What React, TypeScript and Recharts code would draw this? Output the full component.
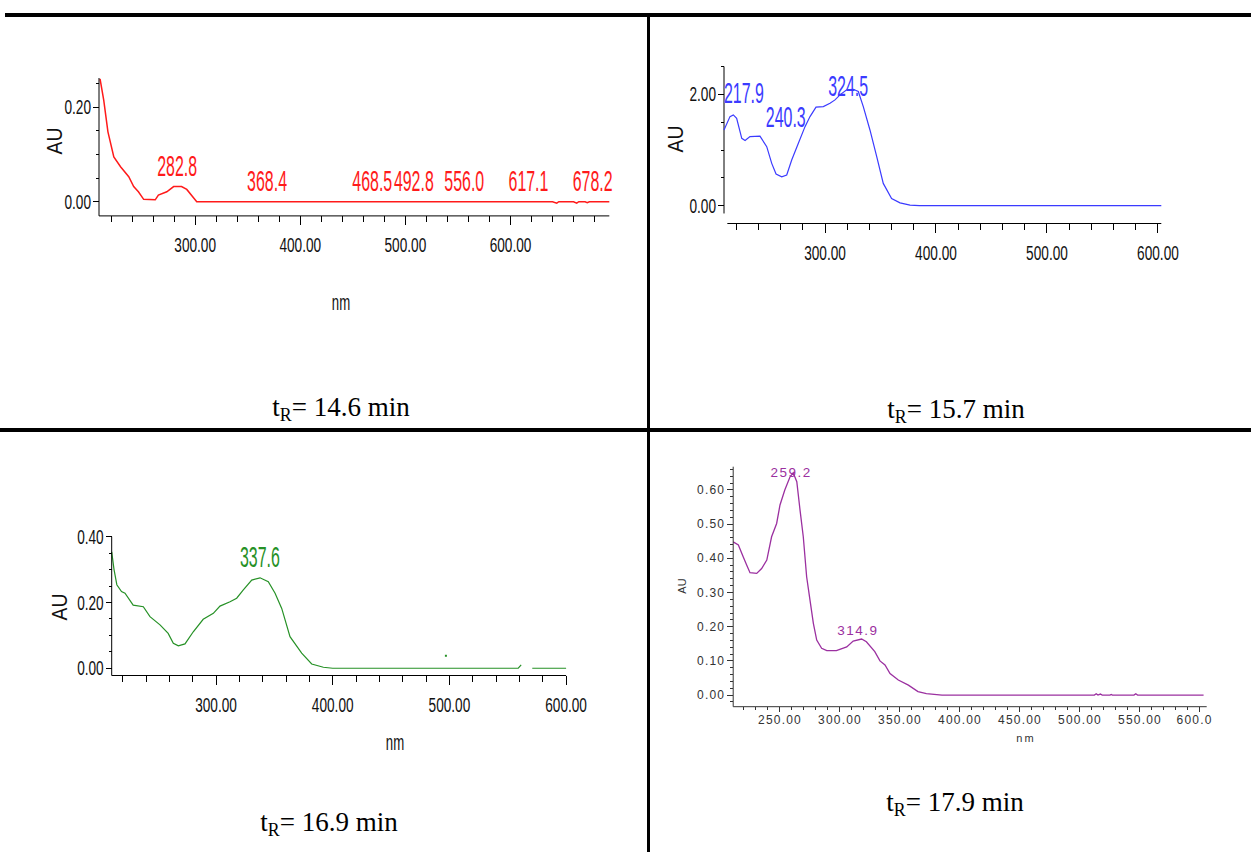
import React from 'react';
import { ComposedChart, Line, Scatter, XAxis, YAxis, ReferenceLine } from 'recharts';

type Pt = { nm: number; au: number | null };
type Peak = { nm: number; au: number; label: string };

// ---------------- data ----------------
// tR = 14.6 min (red)
const SPECTRUM_14_6: Pt[] = [
  { nm: 209.5, au: 0.26 }, { nm: 213, au: 0.215 }, { nm: 217, au: 0.148 }, { nm: 222.6, au: 0.095 },
  { nm: 229, au: 0.074 }, { nm: 236.8, au: 0.053 }, { nm: 241.5, au: 0.032 }, { nm: 246, au: 0.021 },
  { nm: 251, au: 0.005 }, { nm: 262, au: 0.004 }, { nm: 265, au: 0.014 }, { nm: 273, au: 0.021 },
  { nm: 279.5, au: 0.032 }, { nm: 287, au: 0.032 }, { nm: 292, au: 0.026 }, { nm: 301.5, au: 0 },
  { nm: 640, au: 0 }, { nm: 644, au: -0.003 }, { nm: 646, au: 0 }, { nm: 660, au: 0 },
  { nm: 663, au: -0.003 }, { nm: 665, au: 0 }, { nm: 671, au: 0 }, { nm: 673, au: -0.002 },
  { nm: 675, au: 0 }, { nm: 694, au: 0 },
];
const PEAKS_14_6: Peak[] = [
  { nm: 282.8, au: 0.032, label: '282.8' }, { nm: 368.4, au: 0, label: '368.4' },
  { nm: 468.5, au: 0, label: '468.5' }, { nm: 492.8, au: 0, label: '492.8' },
  { nm: 556.0, au: 0, label: '556.0' }, { nm: 617.1, au: 0, label: '617.1' },
  { nm: 678.2, au: 0, label: '678.2' },
];
const X_TICKS_14_6 = [220, 240, 260, 280, 300, 320, 340, 360, 380, 400, 420, 440, 460, 480, 500, 520, 540, 560, 580, 600, 620, 640, 660, 680];
const X_MAJOR_14_6 = [300, 400, 500, 600];
const Y_TICKS_14_6 = [0, 0.05, 0.1, 0.15, 0.2, 0.25];
const Y_MAJOR_14_6 = [0, 0.2];

// tR = 15.7 min (blue)
const SPECTRUM_15_7: Pt[] = [
  { nm: 209, au: 1.36 }, { nm: 214.4, au: 1.6 }, { nm: 217.4, au: 1.63 }, { nm: 220.4, au: 1.57 },
  { nm: 225, au: 1.21 }, { nm: 228, au: 1.17 }, { nm: 232.4, au: 1.24 }, { nm: 241.4, au: 1.25 },
  { nm: 247.5, au: 1.06 }, { nm: 252, au: 0.76 }, { nm: 255.9, au: 0.57 }, { nm: 261, au: 0.52 },
  { nm: 265.5, au: 0.55 }, { nm: 270, au: 0.82 }, { nm: 276, au: 1.12 }, { nm: 282, au: 1.42 },
  { nm: 286.5, au: 1.6 }, { nm: 291.9, au: 1.77 }, { nm: 298.5, au: 1.78 }, { nm: 304.5, au: 1.84 },
  { nm: 309, au: 1.9 }, { nm: 313.5, au: 1.99 }, { nm: 319.5, au: 2.08 }, { nm: 325.5, au: 2.09 },
  { nm: 330, au: 2.05 }, { nm: 334.5, au: 1.78 }, { nm: 340.5, au: 1.36 }, { nm: 346.6, au: 0.88 },
  { nm: 352.5, au: 0.4 }, { nm: 360, au: 0.13 }, { nm: 367.6, au: 0.05 }, { nm: 376.6, au: 0.01 },
  { nm: 385, au: 0 }, { nm: 603, au: 0 },
];
const PEAKS_15_7: Peak[] = [
  { nm: 217.9, au: 1.63, label: '217.9' }, { nm: 240.3, au: 1.25, label: '240.3' },
  { nm: 324.5, au: 2.09, label: '324.5' },
];
const X_TICKS_15_7 = [220, 240, 260, 280, 300, 320, 340, 360, 380, 400, 420, 440, 460, 480, 500, 520, 540, 560, 580, 600];
const X_MAJOR_15_7 = [300, 400, 500, 600];
const Y_TICKS_15_7 = [0, 0.5, 1, 1.5, 2, 2.5];
const Y_MAJOR_15_7 = [0, 2];

// tR = 16.9 min (green)
const SPECTRUM_16_9: Pt[] = [
  { nm: 210.6, au: 0.354 }, { nm: 212.6, au: 0.3 }, { nm: 215, au: 0.254 }, { nm: 219, au: 0.233 },
  { nm: 222, au: 0.228 }, { nm: 229, au: 0.192 }, { nm: 237.7, au: 0.187 }, { nm: 243.4, au: 0.157 },
  { nm: 252, au: 0.132 }, { nm: 259, au: 0.106 }, { nm: 263.4, au: 0.076 }, { nm: 267.7, au: 0.068 },
  { nm: 273.4, au: 0.074 }, { nm: 280.5, au: 0.111 }, { nm: 289, au: 0.149 }, { nm: 297.7, au: 0.167 },
  { nm: 303.4, au: 0.189 }, { nm: 312, au: 0.202 }, { nm: 317.7, au: 0.213 }, { nm: 323.4, au: 0.238 },
  { nm: 330.6, au: 0.268 }, { nm: 337.7, au: 0.275 }, { nm: 344.8, au: 0.263 }, { nm: 350.6, au: 0.228 },
  { nm: 356.3, au: 0.182 }, { nm: 363.4, au: 0.096 }, { nm: 373.4, au: 0.046 }, { nm: 382, au: 0.013 },
  { nm: 392, au: 0.003 }, { nm: 400, au: 0 }, { nm: 559, au: 0 }, { nm: 561.5, au: 0.01 },
  { nm: 566, au: null }, { nm: 571, au: 0 }, { nm: 600, au: 0 },
];
const STRAY_16_9: Pt[] = [{ nm: 497, au: 0.038 }];
const PEAKS_16_9: Peak[] = [{ nm: 337.6, au: 0.275, label: '337.6' }];
const X_TICKS_16_9 = [220, 240, 260, 280, 300, 320, 340, 360, 380, 400, 420, 440, 460, 480, 500, 520, 540, 560, 580, 600];
const X_MAJOR_16_9 = [300, 400, 500, 600];
const Y_TICKS_16_9 = [0, 0.05, 0.1, 0.15, 0.2, 0.25, 0.3, 0.35, 0.4];
const Y_MAJOR_16_9 = [0, 0.2, 0.4];

// tR = 17.9 min (purple)
const SPECTRUM_17_9: Pt[] = [
  { nm: 211, au: 0.448 }, { nm: 215.3, au: 0.439 }, { nm: 219.4, au: 0.404 }, { nm: 222.3, au: 0.38 },
  { nm: 225, au: 0.358 }, { nm: 230.6, au: 0.356 }, { nm: 234.7, au: 0.37 }, { nm: 239, au: 0.395 },
  { nm: 243, au: 0.463 }, { nm: 247.2, au: 0.502 }, { nm: 250, au: 0.556 }, { nm: 254, au: 0.6 },
  { nm: 258.3, au: 0.638 }, { nm: 261, au: 0.65 }, { nm: 264, au: 0.624 }, { nm: 266.7, au: 0.541 },
  { nm: 269.4, au: 0.463 }, { nm: 272.2, au: 0.346 }, { nm: 275, au: 0.278 }, { nm: 277.8, au: 0.21 },
  { nm: 280.6, au: 0.161 }, { nm: 284.7, au: 0.137 }, { nm: 289, au: 0.13 }, { nm: 297, au: 0.13 },
  { nm: 305.6, au: 0.141 }, { nm: 311, au: 0.158 }, { nm: 318, au: 0.164 }, { nm: 322, au: 0.156 },
  { nm: 329, au: 0.127 }, { nm: 333.3, au: 0.1 }, { nm: 337.5, au: 0.088 }, { nm: 341.7, au: 0.063 },
  { nm: 348.6, au: 0.044 }, { nm: 357, au: 0.029 }, { nm: 365, au: 0.01 }, { nm: 372, au: 0.004 },
  { nm: 385, au: 0 }, { nm: 512, au: 0 }, { nm: 513.5, au: 0.004 }, { nm: 515, au: 0 },
  { nm: 517, au: 0.003 }, { nm: 518.5, au: 0 }, { nm: 525, au: 0 }, { nm: 526, au: 0.002 },
  { nm: 527, au: 0 }, { nm: 545, au: 0 }, { nm: 546.5, au: 0.004 }, { nm: 548, au: 0 }, { nm: 603, au: 0 },
];
const PEAKS_17_9: Peak[] = [
  { nm: 259.2, au: 0.645, label: '259.2' }, { nm: 314.9, au: 0.164, label: '314.9' },
];
const X_TICKS_17_9 = [220, 230, 240, 250, 260, 270, 280, 290, 300, 310, 320, 330, 340, 350, 360, 370, 380, 390, 400, 410, 420, 430, 440, 450, 460, 470, 480, 490, 500, 510, 520, 530, 540, 550, 560, 570, 580, 590, 600];
const X_MAJOR_17_9 = [250, 300, 350, 400, 450, 500, 550, 600];
// the last x label is shown truncated in the source picture
const X_LABELS_17_9: Record<number, string> = { 600: '600.0' };
const Y_TICKS_17_9 = [-0.02, 0, 0.02, 0.04, 0.06, 0.08, 0.1, 0.12, 0.14, 0.16, 0.18, 0.2, 0.22, 0.24, 0.26, 0.28, 0.3, 0.32, 0.34, 0.36, 0.38, 0.4, 0.42, 0.44, 0.46, 0.48, 0.5, 0.52, 0.54, 0.56, 0.58, 0.6, 0.62, 0.64, 0.66];
const Y_MAJOR_17_9 = [0, 0.1, 0.2, 0.3, 0.4, 0.5, 0.6];

const CAPTIONS = ['14.6', '15.7', '16.9', '17.9'];

// ---------------- styling ----------------
const SANS = '"Liberation Sans", Arial, sans-serif';
const SERIF = '"Liberation Serif", "Times New Roman", serif';

type TickStyle = {
  majorLen: number; minorLen: number; gap: number; fontSize: number; sx: number;
  fill: string; stroke: string; letterSpacing?: number; baseline: number;
};
type LabelStyle = { fontSize: number; sx: number; rise: number; letterSpacing?: number; nudges: Record<string, [number, number]> };

const OLD_TICKS: TickStyle = { majorLen: 6, minorLen: 3, gap: 2, fontSize: 21, sx: 0.65, fill: '#111', stroke: '#000', baseline: 36 };
const OLD_XTICKS: TickStyle = { ...OLD_TICKS, majorLen: 9, minorLen: 6 };
const NEW_TICKS: TickStyle = { majorLen: 6, minorLen: 3, gap: 2, fontSize: 12, sx: 1, fill: '#333', stroke: '#333', letterSpacing: 1.2, baseline: 17 };
const NEW_XTICKS: TickStyle = { ...NEW_TICKS, majorLen: 5, minorLen: 3 };

const isMajor = (v: number, majors: number[]) => majors.some((m) => Math.abs(m - v) < 1e-9);

type PanelDef = {
  box: { left: number; top: number; width: number; height: number };
  plot: { left: number; top: number; right: number; bottom: number };
  data: Pt[];
  peaks: Peak[];
  stray?: Pt[];
  color: string;
  strokeWidth: number;
  xDomain: [number, number];
  yDomain: [number, number];
  xTicks: number[]; xMajors: number[]; xLabelOverrides?: Record<number, string>;
  yTicks: number[]; yMajors: number[];
  xTickStyle: TickStyle; yTickStyle: TickStyle;
  labelStyle: LabelStyle;
  detachedAxes?: { yFrom: number; xFrom: number };
};

const AXIS_W = 1;

function SpectrumPanel({ p }: { p: PanelDef }) {
  const leftTick = (props: any) => {
    const { x, y, payload } = props;
    const v = payload.value as number;
    const s = p.yTickStyle;
    const major = isMajor(v, p.yMajors);
    const len = major ? s.majorLen : s.minorLen;
    return (
      <g>
        <line x1={x - len} y1={y} x2={x} y2={y} stroke={s.stroke} strokeWidth={1} shapeRendering="crispEdges" />
        {major && (
          <text
            transform={`translate(${x - len - s.gap},${y}) scale(${s.sx},1)`}
            textAnchor="end" dominantBaseline="central" fontFamily={SANS}
            fontSize={s.fontSize} fill={s.fill} letterSpacing={s.letterSpacing}
          >
            {v.toFixed(2)}
          </text>
        )}
      </g>
    );
  };
  const bottomTick = (props: any) => {
    const { x, y, payload } = props;
    const v = payload.value as number;
    const s = p.xTickStyle;
    const major = isMajor(v, p.xMajors);
    const len = major ? s.majorLen : s.minorLen;
    const override = p.xLabelOverrides ? p.xLabelOverrides[v] : undefined;
    const full = v.toFixed(2);
    // an overridden (truncated) label keeps the left edge the full label would have
    const halfW = (full.length * 0.55 * s.fontSize + full.length * (s.letterSpacing || 0)) * s.sx / 2;
    return (
      <g>
        <line x1={x} y1={y} x2={x} y2={y + len} stroke={s.stroke} strokeWidth={1} shapeRendering="crispEdges" />
        {major && (
          <text
            transform={`translate(${override ? x - halfW : x},${y + s.baseline}) scale(${s.sx},1)`}
            textAnchor={override ? 'start' : 'middle'} fontFamily={SANS}
            fontSize={s.fontSize} fill={s.fill} letterSpacing={s.letterSpacing}
          >
            {override || full}
          </text>
        )}
      </g>
    );
  };
  const peakShape = (props: any) => {
    const { cx, cy, payload } = props;
    const ls = p.labelStyle;
    const n = ls.nudges[payload.label] || [0, 0];
    return (
      <text
        transform={`translate(${cx + n[0]},${cy - ls.rise + n[1]}) scale(${ls.sx},1)`}
        textAnchor="middle" fontFamily={SANS} fontSize={ls.fontSize} fill={p.color}
        letterSpacing={ls.letterSpacing}
      >
        {payload.label}
      </text>
    );
  };
  const strayShape = (props: any) => (
    <rect x={props.cx - 1} y={props.cy - 1} width={2} height={2} fill={p.color} />
  );
  const axisStroke = p.yTickStyle.stroke;
  const det = p.detachedAxes;
  const margin = {
    left: p.plot.left - p.box.left - AXIS_W,
    top: p.plot.top - p.box.top,
    right: p.box.left + p.box.width - p.plot.right,
    bottom: p.box.top + p.box.height - p.plot.bottom - AXIS_W,
  };
  return (
    <div style={{ position: 'absolute', left: p.box.left, top: p.box.top }}>
      <ComposedChart width={p.box.width} height={p.box.height} margin={margin}>
        <XAxis
          type="number" dataKey="nm" domain={p.xDomain} ticks={p.xTicks} interval={0}
          tickSize={0} tickMargin={0} tickLine={false} height={AXIS_W} tick={bottomTick}
          stroke={axisStroke} axisLine={det ? false : { stroke: axisStroke }}
        />
        <YAxis
          type="number" domain={p.yDomain} ticks={p.yTicks} interval={0}
          tickSize={0} tickMargin={0} tickLine={false} width={AXIS_W} tick={leftTick}
          stroke={axisStroke} axisLine={det ? false : { stroke: axisStroke }}
        />
        {det && (
          <ReferenceLine
            segment={[{ x: p.xDomain[0], y: det.yFrom }, { x: p.xDomain[0], y: p.yDomain[1] }]}
            stroke={axisStroke} ifOverflow="visible"
          />
        )}
        {det && (
          <ReferenceLine
            segment={[{ x: det.xFrom, y: p.yDomain[0] }, { x: p.xDomain[1], y: p.yDomain[0] }]}
            stroke={axisStroke} ifOverflow="visible"
          />
        )}
        <Line
          data={p.data} dataKey="au" type="linear" stroke={p.color} strokeWidth={p.strokeWidth}
          dot={false} activeDot={false} isAnimationActive={false}
        />
        {p.stray && (
          <Scatter data={p.stray} dataKey="au" shape={strayShape} isAnimationActive={false} />
        )}
        <Scatter data={p.peaks} dataKey="au" shape={peakShape} isAnimationActive={false} />
      </ComposedChart>
    </div>
  );
}

const OLD_LABEL = { fontSize: 29, sx: 0.55, rise: 11 };

const PANELS: PanelDef[] = [
  {
    box: { left: 10, top: 20, width: 630, height: 300 },
    plot: { left: 99, top: 78, right: 609.3, bottom: 215.9 },
    data: SPECTRUM_14_6, peaks: PEAKS_14_6, color: '#ff1a1a', strokeWidth: 1.5,
    xDomain: [208.5, 694], yDomain: [-0.03, 0.262],
    xTicks: X_TICKS_14_6, xMajors: X_MAJOR_14_6, yTicks: Y_TICKS_14_6, yMajors: Y_MAJOR_14_6,
    xTickStyle: OLD_XTICKS, yTickStyle: OLD_TICKS,
    labelStyle: { ...OLD_LABEL, nudges: { '492.8': [16, 0] } },
  },
  {
    box: { left: 655, top: 20, width: 590, height: 300 },
    plot: { left: 724, top: 66.5, right: 1161.3, bottom: 223.5 },
    data: SPECTRUM_15_7, peaks: PEAKS_15_7, color: '#3b3bff', strokeWidth: 1.2,
    xDomain: [209, 603], yDomain: [-0.32, 2.5],
    xTicks: X_TICKS_15_7, xMajors: X_MAJOR_15_7, yTicks: Y_TICKS_15_7, yMajors: Y_MAJOR_15_7,
    xTickStyle: OLD_XTICKS, yTickStyle: OLD_TICKS,
    labelStyle: { ...OLD_LABEL, nudges: { '217.9': [10, -1], '240.3': [27, 2], '324.5': [-4, 18] } },
    detachedAxes: { yFrom: -0.14, xFrom: 212 },
  },
  {
    box: { left: 10, top: 440, width: 630, height: 330 },
    plot: { left: 111.7, top: 536.7, right: 566.1, bottom: 675.5 },
    data: SPECTRUM_16_9, peaks: PEAKS_16_9, stray: STRAY_16_9, color: '#269126', strokeWidth: 1.2,
    xDomain: [210.6, 600], yDomain: [-0.022, 0.4],
    xTicks: X_TICKS_16_9, xMajors: X_MAJOR_16_9, yTicks: Y_TICKS_16_9, yMajors: Y_MAJOR_16_9,
    xTickStyle: OLD_XTICKS, yTickStyle: OLD_TICKS,
    labelStyle: { ...OLD_LABEL, nudges: {} },
  },
  {
    box: { left: 655, top: 440, width: 590, height: 330 },
    plot: { left: 733.2, top: 466.7, right: 1206.7, bottom: 706.7 },
    data: SPECTRUM_17_9, peaks: PEAKS_17_9, color: '#9b30a0', strokeWidth: 1.3,
    xDomain: [211, 605.6], yDomain: [-0.034, 0.668],
    xTicks: X_TICKS_17_9, xMajors: X_MAJOR_17_9, xLabelOverrides: X_LABELS_17_9,
    yTicks: Y_TICKS_17_9, yMajors: Y_MAJOR_17_9,
    xTickStyle: NEW_XTICKS, yTickStyle: NEW_TICKS,
    labelStyle: { fontSize: 13.5, sx: 1, rise: 4, letterSpacing: 1.5, nudges: { '259.2': [0, 6] } },
  },
];

function AxisTitle({ x, y, text, size, sx, rotate, color, spacing }: { x: number; y: number; text: string; size: number; sx: number; rotate?: boolean; color?: string; spacing?: number }) {
  return (
    <div
      style={{
        position: 'absolute', left: x, top: y, fontFamily: SANS, fontSize: size, lineHeight: 1,
        whiteSpace: 'nowrap', color: color || '#111', letterSpacing: spacing,
        transform: `translate(-50%,-50%)${rotate ? ' rotate(-90deg)' : ''} scaleX(${sx})`,
      }}
    >
      {text}
    </div>
  );
}

function Caption({ cx, top, value }: { cx: number; top: number; value: string }) {
  return (
    <div
      style={{
        position: 'absolute', left: cx - 150, width: 300, top, textAlign: 'center',
        fontFamily: SERIF, fontSize: 27, lineHeight: '27px', color: '#000', whiteSpace: 'nowrap',
      }}
    >
      t<sub style={{ fontSize: '0.66em', verticalAlign: '-0.3em', lineHeight: 0 }}>R</sub>= {value} min
    </div>
  );
}

export default function App() {
  return (
    <div style={{ position: 'absolute', left: 0, top: 0, width: 1251, height: 852, background: '#fff', overflow: 'hidden' }}>
      {PANELS.map((p, i) => (
        <SpectrumPanel key={i} p={p} />
      ))}
      <AxisTitle x={55} y={141} text="AU" size={22} sx={0.88} rotate />
      <AxisTitle x={341} y={303} text="nm" size={22} sx={0.6} />
      <AxisTitle x={676} y={139} text="AU" size={22} sx={0.88} rotate />
      <AxisTitle x={60} y={607} text="AU" size={22} sx={0.88} rotate />
      <AxisTitle x={395} y={743} text="nm" size={22} sx={0.6} />
      <AxisTitle x={682} y={586} text="AU" size={11} sx={1} rotate color="#333" />
      <AxisTitle x={1026} y={738} text="nm" size={11} sx={1} color="#333" spacing={2} />

      <Caption cx={341} top={394} value={CAPTIONS[0]} />
      <Caption cx={956} top={396} value={CAPTIONS[1]} />
      <Caption cx={329} top={809} value={CAPTIONS[2]} />
      <Caption cx={955} top={789} value={CAPTIONS[3]} />

      <div style={{ position: 'absolute', left: 5, top: 13, width: 1246, height: 4, background: '#000' }} />
      <div style={{ position: 'absolute', left: 0, top: 428, width: 1251, height: 4, background: '#000' }} />
      <div style={{ position: 'absolute', left: 647, top: 13, width: 3, height: 839, background: '#000' }} />
    </div>
  );
}
